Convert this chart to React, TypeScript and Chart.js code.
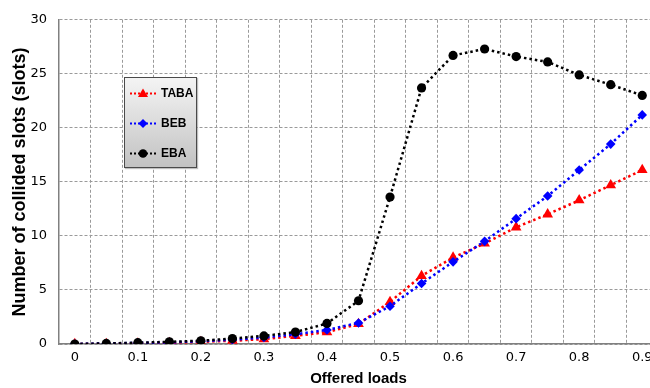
import React, { useEffect, useRef } from "react";
import { Chart, registerables } from "chart.js";

Chart.register(...registerables);

const loads = ["0", "0.05", "0.1", "0.15", "0.2", "0.25", "0.3", "0.35", "0.4", "0.45", "0.5", "0.55", "0.6", "0.65", "0.7", "0.75", "0.8", "0.85", "0.9"];
const shownTicks = ["0", "0.1", "0.2", "0.3", "0.4", "0.5", "0.6", "0.7", "0.8", "0.9"];
const taba = [0, 0, 0.05, 0.1, 0.2, 0.3, 0.45, 0.75, 1.1, 1.85, 3.9, 6.3, 8.0, 9.3, 10.8, 12.0, 13.3, 14.7, 16.1];
const beb = [0, 0.05, 0.1, 0.15, 0.25, 0.4, 0.6, 0.9, 1.3, 1.95, 3.5, 5.6, 7.6, 9.5, 11.6, 13.7, 16.1, 18.5, 21.2];
const eba = [0, 0.05, 0.12, 0.2, 0.3, 0.5, 0.75, 1.1, 1.9, 4.0, 13.6, 23.7, 26.7, 27.3, 26.6, 26.1, 24.9, 24.0, 23.0];
const yTicks = [0, 5, 10, 15, 20, 25, 30];

const legendItems = [
  { label: "TABA", color: "#ff0000", marker: "triangle" },
  { label: "BEB", color: "#0000ff", marker: "diamond" },
  { label: "EBA", color: "#000000", marker: "circle" },
];

function Marker({ kind, color }: { kind: string; color: string }) {
  if (kind === "triangle") return <polygon points="13,1.5 18,10 8,10" fill={color} />;
  if (kind === "diamond") return <polygon points="13,2 17.5,6.5 13,11 8.5,6.5" fill={color} />;
  return <circle cx={13} cy={6.5} r={4.3} fill={color} />;
}

export default function App() {
  const ref = useRef<HTMLCanvasElement | null>(null);
  useEffect(() => {
    if (!ref.current) return;
    const ds = (label: string, data: number[], color: string, style: string, r: number) => ({
      label,
      data,
      borderColor: color,
      backgroundColor: color,
      borderWidth: 2.5,
      borderDash: [2.5, 3],
      pointStyle: style,
      pointRadius: r,
      pointBorderWidth: 0,
      tension: 0,
    });
    const chart = new Chart(ref.current, {
      type: "line",
      data: {
        labels: loads,
        datasets: [
          ds("EBA", eba, "#000000", "circle", 4.6),
          ds("BEB", beb, "#0000ff", "rectRot", 4.8),
          ds("TABA", taba, "#ff0000", "triangle", 6.2),
        ],
      },
      options: {
        animation: false,
        responsive: true,
        maintainAspectRatio: false,
        layout: { padding: { left: 5, right: 12, top: 17, bottom: 0 } },
        plugins: { legend: { display: false }, tooltip: { enabled: false } },
        scales: {
          x: {
            offset: true,
            afterFit: (s: any) => { s.height = 44; },
            grid: { offset: true, color: "#9a9a9a", lineWidth: 1, drawTicks: false },
            border: { display: true, color: "#808080", width: 1.5, dash: [3, 2] },
            ticks: {
              autoSkip: false,
              maxRotation: 0,
              padding: 6,
              color: "#000",
              font: { family: "DejaVu Sans", size: 13 },
              callback: (_v: any, i: number) => (shownTicks.includes(loads[i]) ? loads[i] : ""),
            },
            title: {
              display: true,
              text: "Offered loads",
              color: "#000",
              font: { family: "Liberation Sans", size: 15, weight: "bold" },
              padding: { top: 5, bottom: 0 },
            },
          },
          y: {
            min: 0,
            max: 30,
            afterFit: (s: any) => { s.width = 54; },
            afterBuildTicks: (s: any) => { s.ticks = yTicks.map((v) => ({ value: v })); },
            grid: { color: "#9a9a9a", lineWidth: 1, drawTicks: false },
            border: { display: true, color: "#808080", width: 1.5, dash: [3, 2] },
            ticks: {
              padding: 12,
              color: "#000",
              font: { family: "DejaVu Sans", size: 13 },
            },
            title: {
              display: true,
              text: "Number of collided slots (slots)",
              color: "#000",
              font: { family: "Liberation Sans", size: 18, weight: "bold" },
              padding: { top: 4, bottom: 0 },
            },
          },
        },
      },
    });
    return () => chart.destroy();
  }, []);

  return (
    <div style={{ position: "fixed", left: 0, top: 0, width: 650, height: 388, overflow: "hidden", background: "#fff" }}>
      <div style={{ position: "absolute", left: 0, top: 0, width: 670, height: 388 }}>
        <canvas ref={ref} />
      </div>
      <div
        style={{
          position: "absolute",
          left: 124,
          top: 77,
          width: 71,
          height: 89,
          border: "1px solid #4a4a4a",
          background: "linear-gradient(#f4f4f4, #c2c2c2)",
          boxShadow: "1px 1px 1px rgba(0,0,0,0.25)",
        }}
      >
        {legendItems.map((it, i) => (
          <div key={it.label} style={{ position: "absolute", left: 5, top: 8 + i * 30, height: 14, display: "flex", alignItems: "center" }}>
            <svg width={27} height={13} style={{ display: "block" }}>
              <line x1={0} y1={6.5} x2={27} y2={6.5} stroke={it.color} strokeWidth={2} strokeDasharray="2,2" />
              <Marker kind={it.marker} color={it.color} />
            </svg>
            <span style={{ marginLeft: 4, font: "bold 12px 'Liberation Sans'", color: "#000" }}>{it.label}</span>
          </div>
        ))}
      </div>
    </div>
  );
}
